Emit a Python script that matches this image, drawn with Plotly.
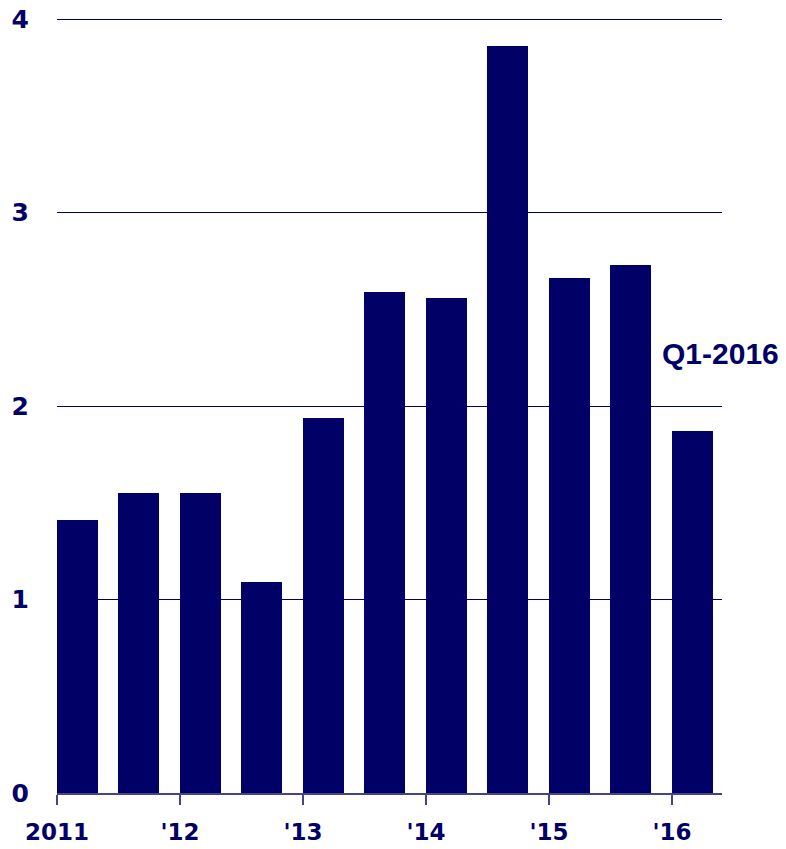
import plotly.graph_objects as go

# Data
years = [2011, 2011, 2012, 2012, 2013, 2013, 2014, 2014, 2015, 2015, 2016]
halves = [1, 2, 1, 2, 1, 2, 1, 2, 1, 2, 1]
values = [1.41, 1.55, 1.55, 1.09, 1.94, 2.59, 2.56, 3.86, 2.66, 2.73, 1.87]
tick_vals = [2011, 2012, 2013, 2014, 2015, 2016]
tick_text = ["2011", "'12", "'13", "'14", "'15", "'16"]
y_ticks = [0, 1, 2, 3, 4]

NAVY = "#000066"
x_start = [y + 0.5 * (h - 1) for y, h in zip(years, halves)]

fig = go.Figure()
fig.add_trace(go.Bar(
    x=x_start, y=values, offset=0, width=1/3,
    marker=dict(color=NAVY, line=dict(width=0)),
    hoverinfo="skip",
))

fig.update_layout(
    width=786, height=849,
    margin=dict(l=57, r=64, t=18, b=56),
    paper_bgcolor="white", plot_bgcolor="white",
    showlegend=False,
    font=dict(family="DejaVu Sans", color=NAVY),
    bargap=0,
)
fig.update_xaxes(
    range=[2011, 2016.407], automargin=False,
    tickmode="array", tickvals=tick_vals, ticktext=tick_text,
    ticks="outside", ticklen=10, tickwidth=1.5, tickcolor="#44448c",
    showline=True, linecolor="#44448c", linewidth=1.5,
    showgrid=False, zeroline=False,
    tickfont=dict(family="DejaVu Sans", size=23, color=NAVY, weight="bold"),
    ticklabelstandoff=8,
)
fig.update_yaxes(
    range=[0, 4.006], automargin=False,
    tickmode="array", tickvals=y_ticks,
    showgrid=True, gridcolor=NAVY, gridwidth=1,
    zeroline=False, showline=False, ticks="",
    tickfont=dict(family="DejaVu Sans", size=25, color=NAVY, weight="bold"),
    ticklabelstandoff=27,
)
fig.add_annotation(
    text="Q1-2016", xref="paper", yref="y", x=(660 - 57) / 665, y=2.27,
    xanchor="left", yanchor="middle", showarrow=False,
    font=dict(family="Liberation Sans", size=30, color=NAVY, weight="bold"),
)

fig.write_html("out.html")
